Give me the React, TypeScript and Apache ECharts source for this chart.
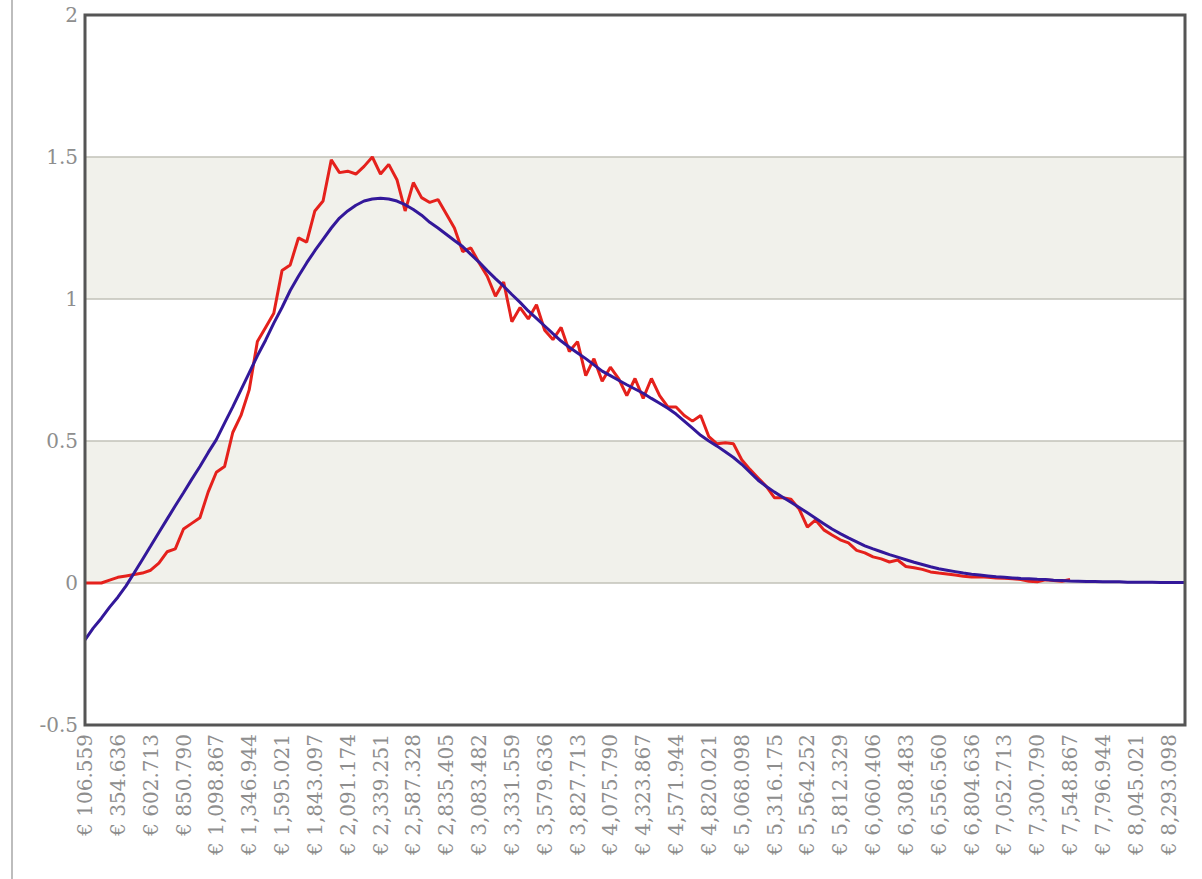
import React, { useEffect, useRef } from "react";
import * as echarts from "echarts";

const tickLabels = [
  "€ 106.559", "€ 354.636", "€ 602.713", "€ 850.790", "€ 1,098.867", "€ 1,346.944",
  "€ 1,595.021", "€ 1,843.097", "€ 2,091.174", "€ 2,339.251", "€ 2,587.328", "€ 2,835.405",
  "€ 3,083.482", "€ 3,331.559", "€ 3,579.636", "€ 3,827.713", "€ 4,075.790", "€ 4,323.867",
  "€ 4,571.944", "€ 4,820.021", "€ 5,068.098", "€ 5,316.175", "€ 5,564.252", "€ 5,812.329",
  "€ 6,060.406", "€ 6,308.483", "€ 6,556.560", "€ 6,804.636", "€ 7,052.713", "€ 7,300.790",
  "€ 7,548.867", "€ 7,796.944", "€ 8,045.021", "€ 8,293.098",
];

const observed: (number | null)[] = [
  0.0, 0.0, 0.0, 0.01, 0.02, 0.025, 0.03, 0.035, 0.045, 0.07,
  0.11, 0.12, 0.19, 0.21, 0.23, 0.32, 0.39, 0.41, 0.53, 0.59,
  0.68, 0.85, 0.9, 0.95, 1.1, 1.12, 1.215, 1.2, 1.31, 1.345,
  1.49, 1.445, 1.45, 1.44, 1.467, 1.5, 1.44, 1.474, 1.42, 1.31,
  1.41, 1.357, 1.34, 1.35, 1.3, 1.25, 1.167, 1.18, 1.128, 1.08,
  1.01, 1.06, 0.92, 0.97, 0.93, 0.98, 0.89, 0.857, 0.9, 0.815,
  0.85, 0.73, 0.79, 0.71, 0.76, 0.72, 0.66, 0.72, 0.65, 0.72,
  0.66, 0.62, 0.62, 0.59, 0.57, 0.59, 0.515, 0.49, 0.494, 0.49,
  0.434, 0.4, 0.37, 0.34, 0.3, 0.3, 0.295, 0.26, 0.197, 0.222,
  0.187, 0.169, 0.152, 0.141, 0.115, 0.106, 0.092, 0.085, 0.074, 0.081,
  0.058, 0.054, 0.048, 0.039, 0.035, 0.032, 0.028, 0.024, 0.021, 0.022,
  0.02, 0.018, 0.017, 0.015, 0.012, 0.006, 0.004, 0.011, 0.009, 0.006,
  0.012, null, null, null, null, null, null, null, null, null,
  null, null, null, null, null,
];

const fitted: number[] = [
  -0.2, -0.159, -0.124, -0.085, -0.05, -0.01, 0.036, 0.083, 0.13, 0.178,
  0.225, 0.272, 0.318, 0.365, 0.41, 0.459, 0.505, 0.563, 0.62, 0.68,
  0.74, 0.8, 0.855, 0.915, 0.97, 1.03, 1.08, 1.127, 1.17, 1.21,
  1.25, 1.285, 1.31, 1.33, 1.345, 1.352, 1.355, 1.352, 1.345, 1.332,
  1.315, 1.295, 1.27, 1.25, 1.228, 1.206, 1.185, 1.157, 1.13, 1.1,
  1.072, 1.045, 1.016, 0.988, 0.958, 0.932, 0.905, 0.878, 0.852, 0.83,
  0.81, 0.79, 0.768, 0.746, 0.73, 0.714, 0.698, 0.683, 0.668, 0.65,
  0.633, 0.615, 0.595, 0.57, 0.545, 0.52, 0.5, 0.482, 0.462, 0.442,
  0.418, 0.39, 0.362, 0.34, 0.32, 0.302, 0.284, 0.266, 0.247, 0.228,
  0.209, 0.19, 0.174, 0.159, 0.145, 0.131, 0.12, 0.11, 0.1, 0.091,
  0.082, 0.073, 0.065, 0.057, 0.05, 0.045, 0.04, 0.035, 0.031, 0.028,
  0.025, 0.022, 0.02, 0.018, 0.016, 0.015, 0.013, 0.012, 0.01, 0.009,
  0.007, 0.006, 0.005, 0.005, 0.004, 0.004, 0.004, 0.003, 0.003, 0.003,
  0.003, 0.002, 0.002, 0.002, 0.002,
];

const categories = fitted.map((_, i) => String(i));

export default function App() {
  const ref = useRef<HTMLDivElement>(null);
  useEffect(() => {
    if (!ref.current) return;
    const chart = echarts.init(ref.current, null, { renderer: "svg" });
    const labelStyle = {
      color: "#8e8e8e",
      fontFamily: "DejaVu Serif",
      fontSize: 20,
    };
    chart.setOption({
      animation: false,
      backgroundColor: "#ffffff",
      graphic: [
        {
          type: "line",
          shape: { x1: 12, y1: 0, x2: 12, y2: 879 },
          style: { stroke: "#bdbdbd", lineWidth: 2 },
          silent: true,
        },
        {
          type: "rect",
          shape: { x: 85, y: 15, width: 1100, height: 710 },
          style: { fill: "none", stroke: "#555555", lineWidth: 3 },
          silent: true,
          z: 100,
        },
      ],
      grid: {
        left: 85,
        top: 15,
        width: 1100,
        height: 710,
        show: false,
      },
      xAxis: {
        type: "category",
        data: categories,
        boundaryGap: false,
        axisLine: { show: false },
        axisTick: { show: false },
        splitLine: { show: false },
        axisLabel: {
          ...labelStyle,
          interval: 3,
          rotate: 90,
          margin: 9,
          formatter: (_v: string, idx: number) =>
            idx % 4 === 0 ? tickLabels[idx / 4] ?? "" : "",
        },
      },
      yAxis: {
        type: "value",
        min: -0.5,
        max: 2,
        interval: 0.5,
        axisLine: { show: false },
        axisTick: { show: false },
        axisLabel: { ...labelStyle, margin: 7 },
        splitLine: { show: true, lineStyle: { color: "#c2c2b9", width: 1.5 } },
        splitArea: { show: true, areaStyle: { color: ["#ffffff", "#f1f1eb"] } },
      },
      series: [
        {
          type: "line",
          data: observed,
          showSymbol: false,
          connectNulls: false,
          lineStyle: { color: "#e5211c", width: 3 },
          itemStyle: { color: "#e5211c" },
          z: 3,
        },
        {
          type: "line",
          data: fitted,
          showSymbol: false,
          lineStyle: { color: "#33189a", width: 3 },
          itemStyle: { color: "#33189a" },
          z: 4,
        },
      ],
    });
    return () => chart.dispose();
  }, []);
  return (
    <div
      ref={ref}
      style={{ position: "absolute", left: 0, top: 0, width: 1202, height: 879 }}
    />
  );
}
